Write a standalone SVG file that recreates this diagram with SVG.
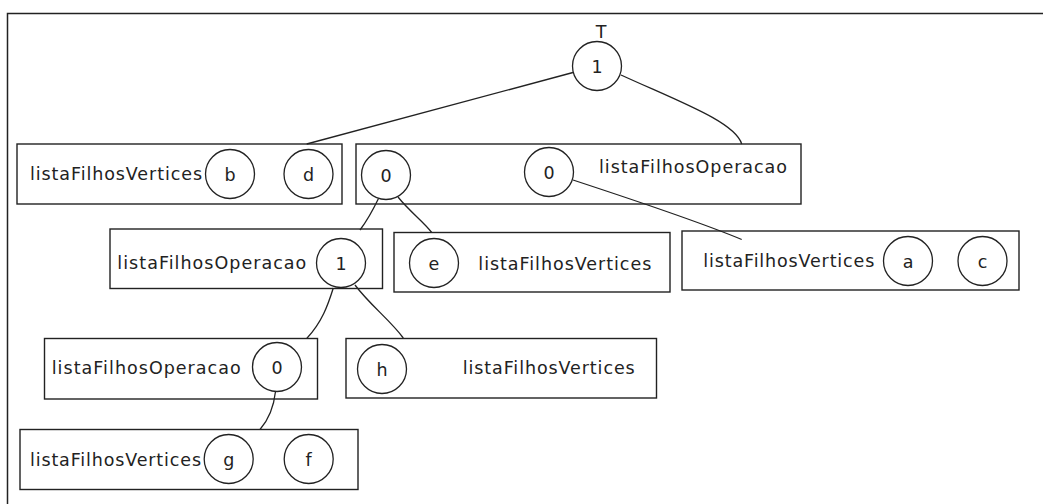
<svg xmlns="http://www.w3.org/2000/svg" width="1043" height="504" viewBox="0 0 1043 504">
<style>
.frame{fill:none;stroke:#222;stroke-width:1.5}
.box{fill:#fff;stroke:#222;stroke-width:1.4}
.nd{fill:#fff;stroke:#222;stroke-width:1.3}
.edge{fill:none;stroke:#222;stroke-width:1.3}
text{font-family:"DejaVu Sans","Liberation Sans",sans-serif;font-size:17.5px;fill:#222}
.c{text-anchor:middle}
</style>
<rect width="1043" height="504" fill="#fff"/>
<path class="frame" d="M7.5,504 V13.5 H1043"/>
<g id="box-b-d">
<rect class="box" x="17" y="144" width="325" height="60"/>
<text x="30" y="180" textLength="172" lengthAdjust="spacing">listaFilhosVertices</text>
<circle class="nd" cx="230" cy="174" r="24.5"/><text class="c" x="230" y="180.5">b</text>
<circle class="nd" cx="308.5" cy="174" r="24.5"/><text class="c" x="308.5" y="180.5">d</text>
</g>
<g id="box-top-op">
<rect class="box" x="356" y="144" width="445" height="60"/>
<circle class="nd" cx="386" cy="175" r="24.5"/><text class="c" x="386" y="181.5">0</text>
<circle class="nd" cx="549" cy="172" r="24.5"/><text class="c" x="549" y="178.5">0</text>
<text x="599" y="172.5" textLength="188" lengthAdjust="spacing">listaFilhosOperacao</text>
</g>
<g id="box-op-1">
<rect class="box" x="110" y="229" width="272.5" height="59.5"/>
<text x="117.3" y="269" textLength="189" lengthAdjust="spacing">listaFilhosOperacao</text>
<circle class="nd" cx="341" cy="263" r="24.5"/><text class="c" x="341" y="269.5">1</text>
</g>
<g id="box-e">
<rect class="box" x="394" y="232.5" width="276" height="59.5"/>
<circle class="nd" cx="434" cy="263" r="24.5"/><text class="c" x="434" y="269.5">e</text>
<text x="478.3" y="270" textLength="173" lengthAdjust="spacing">listaFilhosVertices</text>
</g>
<g id="box-a-c">
<rect class="box" x="682" y="231" width="337" height="59"/>
<text x="703.3" y="266.7" textLength="171" lengthAdjust="spacing">listaFilhosVertices</text>
<circle class="nd" cx="908" cy="261" r="24.5"/><text class="c" x="908" y="267.5">a</text>
<circle class="nd" cx="982.5" cy="261" r="24.5"/><text class="c" x="982.5" y="267.5">c</text>
</g>
<g id="box-op-0">
<rect class="box" x="44.5" y="338.5" width="273" height="60.5"/>
<text x="51.7" y="374" textLength="189" lengthAdjust="spacing">listaFilhosOperacao</text>
<circle class="nd" cx="277" cy="367" r="24.5"/><text class="c" x="277" y="373.5">0</text>
</g>
<g id="box-h">
<rect class="box" x="346" y="338.5" width="310.5" height="59.5"/>
<circle class="nd" cx="382" cy="369" r="24.5"/><text class="c" x="382" y="375.5">h</text>
<text x="462.7" y="374.3" textLength="172" lengthAdjust="spacing">listaFilhosVertices</text>
</g>
<g id="box-g-f">
<rect class="box" x="20" y="429.5" width="338" height="60"/>
<text x="30" y="466" textLength="171" lengthAdjust="spacing">listaFilhosVertices</text>
<circle class="nd" cx="228.7" cy="459" r="24.5"/><text class="c" x="228.7" y="465.5">g</text>
<circle class="nd" cx="308.7" cy="459" r="24.5"/><text class="c" x="308.7" y="465.5">f</text>
</g>
<g id="root">
<text class="c" x="601" y="37.5">T</text>
<circle class="nd" cx="597" cy="66" r="24.5"/><text class="c" x="597" y="72.5">1</text>
</g>
<g id="connectors">
<path class="edge" d="M573,72.5 L306.7,144"/>
<path class="edge" d="M621,75 C680,102 735,122 741.7,144"/>
<path class="edge" d="M378.5,198.5 C372,212 366,222 360,230"/>
<path class="edge" d="M398,197 C410,212 424,222 431.7,232.5"/>
<path class="edge" d="M573,180 C640,202 700,222 741.7,239.5"/>
<path class="edge" d="M333.3,288 C328,305 322,322 306.7,338.5"/>
<path class="edge" d="M355,285 C370,305 390,320 403.3,338"/>
<path class="edge" d="M275.5,391.5 C274,405 270,418 260,429.5"/>
</g>
</svg>
